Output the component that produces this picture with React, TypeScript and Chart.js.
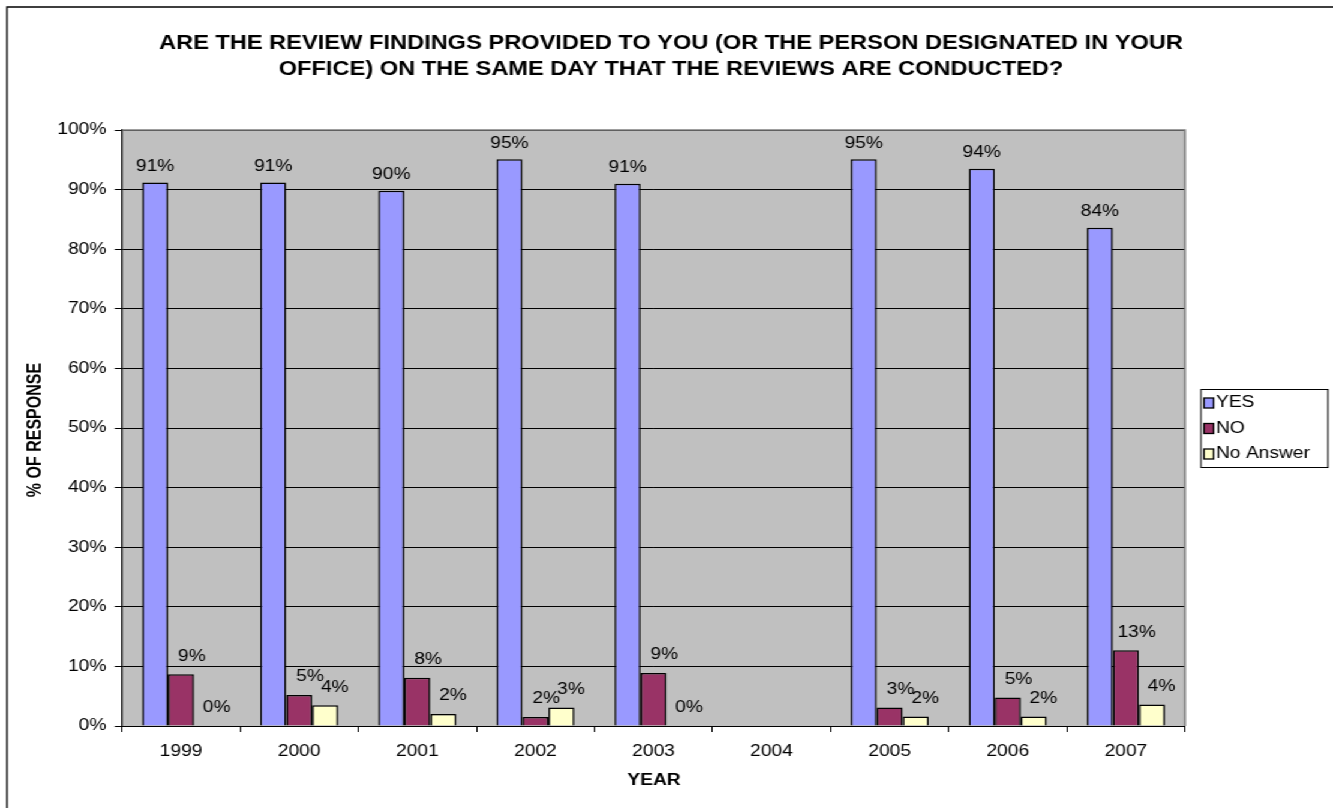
import React, { useEffect, useRef } from "react";
import { Chart, registerables } from "chart.js";

Chart.register(...registerables);

const years = ["1999", "2000", "2001", "2002", "2003", "2004", "2005", "2006", "2007"];
const yesValues = [91.2, 91.2, 89.8, 95.1, 91.0, null, 95.1, 93.5, 83.6];
const noValues = [8.7, 5.2, 8.1, 1.5, 8.9, null, 3.1, 4.8, 12.7];
const noAnswerValues = [0, 3.5, 2.0, 3.1, 0, null, 1.6, 1.6, 3.6];
const seriesNames = ["YES", "NO", "No Answer"];
const seriesColors = ["#9999FF", "#993366", "#FFFFCC"];
const titleLines = [
  "ARE THE REVIEW FINDINGS PROVIDED TO YOU (OR THE PERSON DESIGNATED IN YOUR",
  "OFFICE) ON THE SAME DAY THAT THE REVIEWS ARE CONDUCTED?",
];
const yAxisTitle = "% OF RESPONSE";
const xAxisTitle = "YEAR";

const FONT = "'Liberation Sans', Arial, sans-serif";

// the reference is horizontally stretched; draw narrower and scale on screen
const CW = 1111;
const CH = 808;
const SX = 1333 / CW;
const sx = (x: number) => x / SX;

const labelOffsets = [
  { dx: 0, dy: 8 },
  { dx: 9, dy: 10 },
  { dx: 8, dy: 10 },
];

const decorPlugin = {
  id: "decor",
  afterDraw(chart: any) {
    const ctx = chart.ctx as CanvasRenderingContext2D;
    const area = chart.chartArea;
    ctx.save();

    // plot top/right border (gray)
    ctx.strokeStyle = "#808080";
    ctx.lineWidth = 1.7;
    ctx.beginPath();
    ctx.moveTo(area.left, area.top);
    ctx.lineTo(area.right, area.top);
    ctx.lineTo(area.right, area.bottom);
    ctx.stroke();

    // outer frame
    ctx.strokeStyle = "#000";
    ctx.lineWidth = 1.3;
    ctx.beginPath();
    ctx.moveTo(sx(7), CH);
    ctx.lineTo(sx(7), 7);
    ctx.lineTo(CW, 7);
    ctx.stroke();

    // title
    ctx.fillStyle = "#000";
    ctx.font = `bold 19.7px ${FONT}`;
    ctx.textAlign = "center";
    ctx.textBaseline = "middle";
    titleLines.forEach((line, i) => ctx.fillText(line, sx(671), 44 + i * 26));

    // axis titles
    ctx.font = `bold 16px ${FONT}`;
    ctx.fillText(xAxisTitle, sx(654), 781);
    ctx.save();
    ctx.translate(sx(36), 430);
    ctx.rotate(-Math.PI / 2);
    ctx.fillText(yAxisTitle, 0, 0);
    ctx.restore();

    // data labels
    ctx.font = `16px ${FONT}`;
    ctx.textAlign = "center";
    ctx.textBaseline = "bottom";
    chart.data.datasets.forEach((ds: any, di: number) => {
      const meta = chart.getDatasetMeta(di);
      meta.data.forEach((bar: any, i: number) => {
        const v = ds.data[i];
        if (v === null || v === undefined) return;
        const off = labelOffsets[di];
        ctx.fillText(Math.round(v) + "%", bar.x + off.dx, bar.y - off.dy);
      });
    });

    // legend
    const lx = sx(1201), ly = 389, lw = sx(1328) - sx(1201), lh = 78;
    ctx.fillStyle = "#fff";
    ctx.fillRect(lx, ly, lw, lh);
    ctx.strokeStyle = "#000";
    ctx.lineWidth = 1;
    ctx.strokeRect(lx, ly + 0.5, lw, lh);
    ctx.font = `16px ${FONT}`;
    ctx.textAlign = "left";
    ctx.textBaseline = "middle";
    chart.data.datasets.forEach((ds: any, di: number) => {
      const cy = 403 + di * 25.5;
      const mx = sx(1204);
      ctx.fillStyle = ds.backgroundColor;
      ctx.fillRect(mx, cy - 5, 8, 10);
      ctx.strokeStyle = "#000";
      ctx.lineWidth = 1.3;
      ctx.strokeRect(mx, cy - 5, 8, 10);
      ctx.fillStyle = "#000";
      ctx.fillText(ds.label, sx(1216), cy);
    });

    ctx.restore();
  },
};

const bgPlugin = {
  id: "plotBg",
  beforeDraw(chart: any) {
    const ctx = chart.ctx as CanvasRenderingContext2D;
    const a = chart.chartArea;
    ctx.save();
    ctx.fillStyle = "#fff";
    ctx.fillRect(0, 0, chart.width, chart.height);
    ctx.fillStyle = "#C0C0C0";
    ctx.fillRect(a.left, a.top, a.right - a.left, a.bottom - a.top);
    ctx.restore();
  },
};

export default function App() {
  const ref = useRef<HTMLCanvasElement | null>(null);

  useEffect(() => {
    if (!ref.current) return;
    const seriesData = [yesValues, noValues, noAnswerValues];
    const chart = new Chart(ref.current, {
      type: "bar",
      data: {
        labels: years,
        datasets: seriesNames.map((name, i) => ({
          label: name,
          data: seriesData[i],
          backgroundColor: seriesColors[i],
          borderColor: "#000",
          borderWidth: 1.5,
          barPercentage: 1,
          categoryPercentage: 0.66,
        })),
      },
      options: {
        animation: false,
        responsive: false,
        devicePixelRatio: 1,
        layout: { padding: { top: 130, left: 0, right: CW - sx(1185), bottom: 0 } },
        plugins: {
          legend: { display: false },
          title: { display: false },
          tooltip: { enabled: false },
        },
        scales: {
          y: {
            min: 0,
            max: 100,
            ticks: {
              stepSize: 10,
              callback: (v: any) => v + "%",
              color: "#000",
              font: { family: FONT, size: 16 },
              padding: 7,
            },
            grid: { color: "#000", lineWidth: 1, tickLength: 6, tickColor: "#000" },
            border: { color: "#000", width: 1.2 },
            afterFit: (s: any) => {
              s.width = sx(122);
            },
          },
          x: {
            ticks: {
              color: "#000",
              font: { family: FONT, size: 16 },
              padding: 10,
            },
            grid: {
              offset: true,
              drawOnChartArea: false,
              tickLength: 6,
              tickColor: "#000",
              color: "#000",
            },
            border: { color: "#000", width: 1 },
            afterFit: (s: any) => {
              s.height = 82;
            },
          },
        },
      },
      plugins: [bgPlugin, decorPlugin],
    });
    return () => chart.destroy();
  }, []);

  return (
    <div
      style={{
        position: "fixed",
        left: 0,
        top: 0,
        width: CW,
        height: CH,
        background: "#fff",
        transform: `scaleX(${SX})`,
        transformOrigin: "0 0",
      }}
    >
      <canvas ref={ref} width={CW} height={CH} style={{ display: "block" }} />
    </div>
  );
}
